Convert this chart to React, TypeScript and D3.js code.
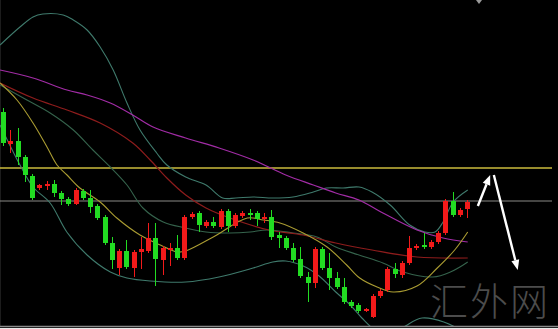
import React from "react";
import * as d3 from "d3";

const W = 558;
const H = 329;

// Candles (index 0..64), values in chart price units
const opens = [288,256,259,243,224,212,214,216,207,201, 196,209,202,194,183,157,132,149,132,148, 149,162,140,150,152,142,183,187,174,178, 173,189,174,184,187,187,181,183,165,162, 152,141,123,117,151,132,122,113,98,95, 89,83,104,110,131,125,137,152,155,153, 158,167,199,185,191];
const closes = [257,259,243,225,202,215,216,207,201,196, 210,202,193,182,157,140,149,133,148,151, 162,141,152,152,142,183,186,175,178,174, 189,174,185,187,185,181,183,163,162,152, 140,124,117,151,132,122,113,98,94,89, 91,104,109,131,126,137,152,154,153,158, 167,199,185,190,198];
const highs = [292,270,272,245,226,216,219,220,209,203, 212,211,210,196,185,163,151,160,150,163, 177,177,154,157,165,185,188,189,180,183, 191,191,187,189,191,189,187,190,168,164, 157,153,128,153,153,147,128,122,100,97, 92,106,111,133,137,139,164,156,167,160, 169,201,208,192,200];
const lows = [254,247,235,218,200,210,210,203,195,194, 195,200,187,180,155,131,125,131,123,131, 147,114,125,134,140,140,181,168,172,172, 171,168,172,182,180,174,177,160,152,150, 138,122,98,112,130,110,111,96,92,87, 88,82,102,108,122,122,135,150,151,151, 156,165,183,183,182];

// Indicator lines: [candle index, value]
const bollUpper: [number, number][] = [[-0.41,355],[2.34,373],[4.14,383],[5.5,386],[8.3,385],[9.7,380],[11.6,370],[13.4,353],[15.2,330],[17.1,297],[18.9,270],[21.2,247],[22.6,235],[25.2,223],[28,215],[30.3,202],[32.1,202],[34.5,203],[37.2,202],[40,203],[42.8,208],[44.6,212],[46.9,212],[49.1,213],[50.9,208],[53.4,195],[56.1,175],[58.2,168],[59.6,168],[60.7,178],[62.1,198],[64.1,210]];
const bollMid: [number, number][] = [[-0.41,315],[3.3,300],[6.5,287],[9.7,270],[12.4,250],[14.8,233],[17.1,215],[19.3,192],[22.1,178],[25.2,172],[28,168],[31.3,167],[34.1,168],[36.4,170],[40,167],[43.3,163],[45.9,153],[49.1,145],[52.4,137],[55.2,128],[59.3,123],[61.7,128],[64.1,138]];
const bollLower: [number, number][] = [[-0.41,275],[2.34,235],[4.14,213],[6.5,197],[8.8,168],[11.6,145],[14.8,128],[17.1,122],[20.3,119],[25.2,118],[29.8,123],[34.5,132],[37.2,138],[39,139],[41.4,134],[43.6,124],[45.9,108],[47.9,95],[49.5,82],[51.3,70],[53.5,64],[55.5,74],[57.8,82],[60.8,78],[64.1,66]];
const maFast: [number, number][] = [[-0.41,317],[1.93,300],[4.14,277],[6.07,253],[7.45,235],[8.83,225],[10.6,212],[13.4,198],[15.7,182],[18.9,165],[21.7,155],[24,148],[25.2,149],[29,163],[33.7,182],[35.9,180],[38.2,177],[41.4,167],[44.7,153],[47.4,135],[49.2,122],[51.6,113],[53.8,108],[57.1,114],[59.9,132],[62.3,150],[64.1,168]];
const maMid: [number, number][] = [[-0.41,317],[4.14,302],[8.83,290],[13.4,277],[17.9,257],[20.3,240],[22.6,222],[25.2,205],[28,192],[31.3,182],[36.7,170],[41.4,165],[45.9,157],[50.9,150],[57.1,143],[64.1,142]];
const maSlow: [number, number][] = [[-0.41,330],[4.14,322],[8.83,310],[11.6,305],[14.8,297],[17.9,285],[20.7,273],[25.2,262],[29.8,252],[34.5,240],[39,225],[42.8,215],[45.9,207],[49.1,200],[52.4,187],[57.1,170],[60.7,162],[64.1,158]];

// Horizontal levels
const resistanceLevel = 232;
const pivotLevel = 199;

// Arrows: [from, to] in [index, value]
const arrowUp: [number, number][] = [[65.5, 194], [67.2, 225]];
const arrowDown: [number, number][] = [[67.7, 225], [71.0, 130]];

const watermark = "汇外网";

export default function App() {
  const x = d3.scaleLinear().domain([0, 64]).range([3, 467]);
  const y = d3.scaleLinear().domain([71, 400]).range([329, 0]);
  const line = d3
    .line<[number, number]>()
    .x((d) => x(d[0]))
    .y((d) => y(d[1]))
    .curve(d3.curveCatmullRom.alpha(0.5));

  const bodyW = 5;
  const up = "#f21a1a";
  const down = "#22dc22";

  const arrow = (pts: [number, number][], key: string) => {
    const x1 = x(pts[0][0]), y1 = y(pts[0][1]);
    const x2 = x(pts[1][0]), y2 = y(pts[1][1]);
    const ang = Math.atan2(y2 - y1, x2 - x1);
    const len = 10, half = 4;
    const bx = x2 - len * Math.cos(ang), by = y2 - len * Math.sin(ang);
    const px = -Math.sin(ang) * half, py = Math.cos(ang) * half;
    return (
      <g key={key}>
        <line x1={x1} y1={y1} x2={bx} y2={by} stroke="#ffffff" strokeWidth={2.4} />
        <polygon points={`${x2},${y2} ${bx + px},${by + py} ${bx - px},${by - py}`} fill="#ffffff" />
      </g>
    );
  };

  return (
    <svg
      width={W}
      height={H}
      style={{ position: "absolute", left: 0, top: 0, display: "block" }}
    >
      <defs>
        <clipPath id="plot">
          <rect x={0} y={0} width={W} height={326} />
        </clipPath>
      </defs>
      <rect x={0} y={0} width={W} height={H} fill="#000000" />
      <line x1={0.5} y1={0} x2={0.5} y2={327} stroke="#1c1c1c" />
      <g clipPath="url(#plot)">
        <line x1={0} x2={552} y1={y(resistanceLevel)} y2={y(resistanceLevel)} stroke="#cbbb3c" strokeWidth={1.3} />
        <line x1={0} x2={552} y1={y(pivotLevel)} y2={y(pivotLevel)} stroke="#8a8a86" strokeWidth={1} />
        <path d={line(bollUpper) || ""} fill="none" stroke="#3f7a6c" strokeWidth={1.1} />
        <path d={line(bollLower) || ""} fill="none" stroke="#3f7a6c" strokeWidth={1.1} />
        <path d={line(bollMid) || ""} fill="none" stroke="#35634c" strokeWidth={1.1} />
        <path d={line(maSlow) || ""} fill="none" stroke="#a22ca6" strokeWidth={1.2} />
        <path d={line(maMid) || ""} fill="none" stroke="#8e1c1c" strokeWidth={1.2} />
        <path d={line(maFast) || ""} fill="none" stroke="#aa9c32" strokeWidth={1.1} />
        {opens.map((o, i) => {
          const c = closes[i];
          const col = c >= o ? up : down;
          const cx = Math.round(x(i)) + 0.5;
          const top = y(Math.max(o, c));
          const bot = y(Math.min(o, c));
          return (
            <g key={i}>
              <line x1={cx} x2={cx} y1={y(highs[i])} y2={y(lows[i])} stroke={col} strokeWidth={1} />
              <rect x={cx - bodyW / 2} y={top} width={bodyW} height={Math.max(2, bot - top)} fill={col} />
            </g>
          );
        })}
        {arrow(arrowUp, "a1")}
        {arrow(arrowDown, "a2")}
        <text
          x={430}
          y={315}
          fontFamily="'Noto Sans CJK SC', sans-serif"
          fontSize={38}
          fontWeight={300}
          fill="#4c4c4c"
          letterSpacing={2}
        >
          {watermark}
        </text>
      </g>
      <polygon points="476,0 482,0 479,4" fill="#9a9a9a" />
      <line x1={0} x2={W} y1={326.5} y2={326.5} stroke="#8a8a8a" strokeWidth={1.5} />
      <rect x={0} y={328} width={W} height={1} fill="#e8e8e8" />
    </svg>
  );
}
